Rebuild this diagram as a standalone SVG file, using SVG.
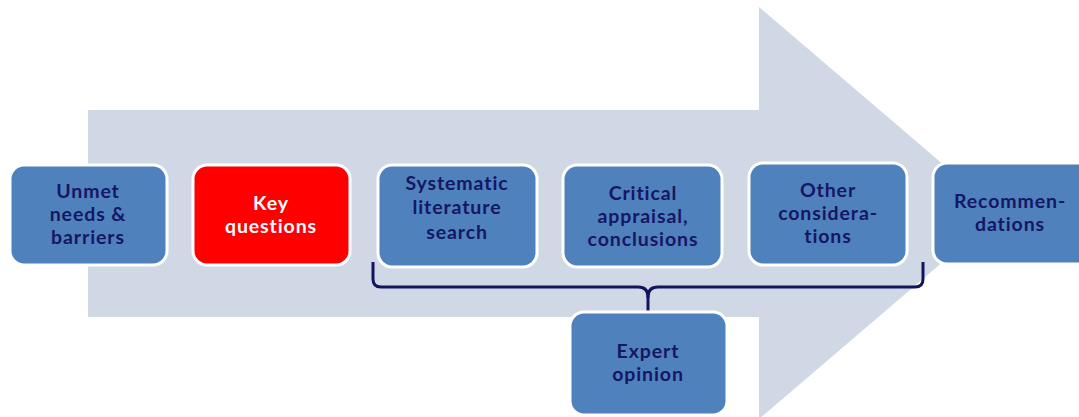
<svg xmlns="http://www.w3.org/2000/svg" width="1079" height="417" viewBox="0 0 1079 417">
<style>
.box{fill:#4f81bd;stroke:#ffffff;stroke-width:3}
.red{fill:#ff0000;stroke:#ffffff;stroke-width:3}
.t{font-family:Lato,"Open Sans","Liberation Sans",sans-serif;font-weight:bold;font-size:19.5px;letter-spacing:0.9px;fill:#161664;text-anchor:middle}
.w{fill:#ffffff}
.br{fill:none;stroke:#14145e;stroke-width:3;stroke-linejoin:round}
</style>
<rect width="1079" height="417" fill="#ffffff"/>
<polygon id="arrow" points="88,110 759,110 759,7 1000,213 759,419 759,317 88,317" fill="#d0d8e6"/>
<g id="connectors">
<path class="br" d="M373,262 L373,279 Q373,287 381,287 L638,287 Q648,287 648,297 Q648,287 658,287 L915,287 Q923,287 923,279 L923,262"/>
<path class="br" d="M648,296 L648,313"/>
</g>
<g id="n1"><rect class="box" x="10" y="165" width="157" height="100" rx="14"/>
<text class="t" x="88" y="198">Unmet</text><text class="t" x="88" y="221">needs &amp;</text><text class="t" x="88" y="244">barriers</text></g>
<g id="n2"><rect class="red" x="193" y="165" width="157" height="100" rx="14"/>
<text class="t w" x="271" y="210">Key</text><text class="t w" x="271" y="233">questions</text></g>
<g id="n3"><rect class="box" x="378" y="165" width="159" height="102" rx="14"/>
<text class="t" x="457" y="190">Systematic</text><text class="t" x="457" y="214">literature</text><text class="t" x="457" y="239">search</text></g>
<g id="n4"><rect class="box" x="563" y="165" width="159" height="102" rx="14"/>
<text class="t" x="643" y="200">Critical</text><text class="t" x="643" y="223">appraisal,</text><text class="t" x="643" y="246">conclusions</text></g>
<g id="n5"><rect class="box" x="749" y="163" width="158" height="102" rx="14"/>
<text class="t" x="828" y="197">Other</text><text class="t" x="828" y="220">considera-</text><text class="t" x="828" y="243">tions</text></g>
<g id="n6"><rect class="box" x="933" y="163" width="160" height="101" rx="14"/>
<text class="t" x="1010" y="208">Recommen-</text><text class="t" x="1010" y="231">dations</text></g>
<g id="n7"><rect class="box" x="570" y="312" width="157" height="103" rx="14"/>
<text class="t" x="648" y="358">Expert</text><text class="t" x="648" y="381">opinion</text></g>
</svg>
